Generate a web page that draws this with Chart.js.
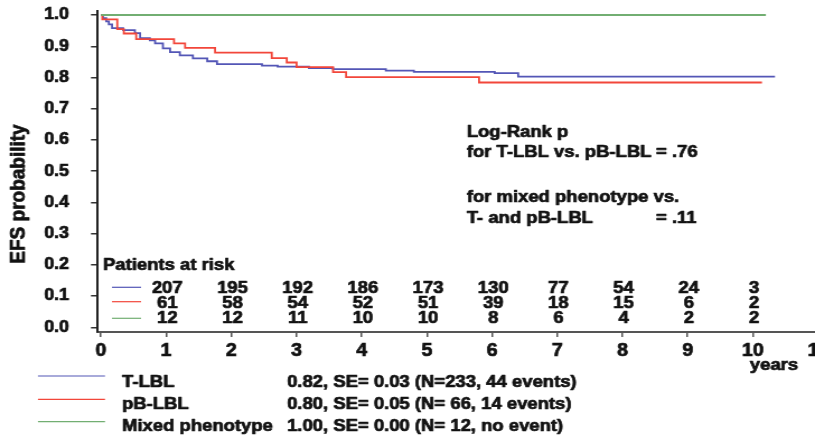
<!DOCTYPE html>
<html>
<head>
<meta charset="utf-8">
<script src="https://cdn.jsdelivr.net/npm/chart.js@4.4.0/dist/chart.umd.min.js"></script>
<style>
  html, body { margin: 0; padding: 0; background: #fff; overflow: hidden; width: 815px; height: 439px; }
  /* the original figure is stretched sideways a little, so draw narrow and widen */
  #wrap { width: 734px; height: 439px; transform: scaleX(1.1195); transform-origin: 0 0; }
  canvas { display: block; }
</style>
</head>
<body>
<div id="wrap"><canvas id="km" width="734" height="439"></canvas></div>
<script>
(function () {
    "use strict";

    var xTicks = [0, 1, 2, 3, 4, 5, 6, 7, 8, 9, 10, 11];
    var yTicks = [0, 0.1, 0.2, 0.3, 0.4, 0.5, 0.6, 0.7, 0.8, 0.9, 1.0];

    // Kaplan-Meier steps (years, EFS)
    var tlblTimes = [0, 0.03, 0.08, 0.12, 0.17, 0.34, 0.52, 0.60, 0.75, 0.83, 0.95, 1.06, 1.21, 1.41, 1.63, 1.78, 2.47, 2.71, 3.19, 3.56, 4.37, 4.80, 6.04, 6.40, 10.34];
    var tlblEfs   = [1.0, 0.99, 0.98, 0.97, 0.958, 0.952, 0.942, 0.926, 0.919, 0.909, 0.893, 0.881, 0.871, 0.861, 0.852, 0.843, 0.838, 0.835, 0.830, 0.827, 0.822, 0.818, 0.814, 0.803, 0.803];

    var pblTimes = [0, 0.02, 0.25, 0.35, 0.54, 1.12, 1.29, 1.75, 2.62, 2.85, 3.0, 3.56, 3.76, 5.80, 10.14];
    var pblEfs   = [1.0, 0.986, 0.955, 0.941, 0.923, 0.909, 0.895, 0.880, 0.862, 0.848, 0.833, 0.817, 0.801, 0.784, 0.784];

    var mixedTimes = [0, 10.2];
    var mixedEfs   = [1.0, 1.0];

    // patients at risk
    var riskTimes = [1, 2, 3, 4, 5, 6, 7, 8, 9, 10];
    var riskTlbl  = [207, 195, 192, 186, 173, 130, 77, 54, 24, 3];
    var riskPbl   = [61, 58, 54, 52, 51, 39, 18, 15, 6, 2];
    var riskMixed = [12, 12, 11, 10, 10, 8, 6, 4, 2, 2];

    var seriesNames  = ['T-LBL', 'pB-LBL', 'Mixed phenotype'];
    var seriesStats  = ['0.82, SE= 0.03 (N=233, 44 events)', '0.80, SE= 0.05 (N= 66, 14 events)', '1.00, SE= 0.00 (N= 12, no event)'];
    var seriesColors = ['#5356b6', '#f2463a', '#72ae72'];

    var noteLines  = ['Log-Rank p', 'for T-LBL vs. pB-LBL', 'for mixed phenotype vs.', 'T- and pB-LBL'];
    var noteValues = ['', '= .76', '', '= .11'];

    var textColor = '#111';
    var fontFam = '"Liberation Sans", Arial, sans-serif';
    var heavy = 0.7; // extra stroke, the scanned figure has thick letters

    function toPoints(times, vals) {
        return times.map(function (t, i) { return {x: t, y: vals[i]}; });
    }

    function setFont(ctx, size) {
        ctx.font = 'bold ' + size + 'px ' + fontFam;
    }

    function text(ctx, s, x, y) {
        ctx.strokeText(s, x, y);
        ctx.fillText(s, x, y);
    }

    var textPlugin = {
        id: 'kmText',
        afterDraw: function (chart) {
            var ctx = chart.ctx;
            var xs = chart.scales.x;
            ctx.save();
            ctx.fillStyle = textColor;
            ctx.lineJoin = 'round';

            // y axis title
            ctx.save();
            ctx.translate(17, 194);
            ctx.rotate(-Math.PI / 2);
            setFont(ctx, 19);
            ctx.textAlign = 'center';
            ctx.textBaseline = 'middle';
            ctx.strokeStyle = textColor;
            ctx.lineWidth = heavy;
            text(ctx, 'EFS probability', 0, 0);
            ctx.restore();

            ctx.strokeStyle = textColor;
            ctx.lineWidth = heavy;

            // x axis unit
            setFont(ctx, 16.5);
            ctx.textAlign = 'center';
            ctx.textBaseline = 'alphabetic';
            text(ctx, 'years', 691.4, 369.5);

            // notes
            ctx.textAlign = 'left';
            var noteBase = [136.7, 156.7, 201.7, 223.3];
            for (var i = 0; i < noteLines.length; i++) {
                text(ctx, noteLines[i], 416.9, noteBase[i]);
                if (noteValues[i]) text(ctx, noteValues[i], 586, noteBase[i]);
            }

            // patients at risk
            ctx.textBaseline = 'middle';
            text(ctx, 'Patients at risk', 92, 265);
            var rows = [riskTlbl, riskPbl, riskMixed];
            var rowY = [287.5, 302, 317];
            var lineY = [287.3, 301.7, 318.3];
            setFont(ctx, 16.5);
            ctx.textAlign = 'center';
            for (var r = 0; r < rows.length; r++) {
                ctx.save();
                ctx.strokeStyle = seriesColors[r];
                ctx.lineWidth = 1.2;
                ctx.beginPath();
                ctx.moveTo(100, lineY[r]);
                ctx.lineTo(126, lineY[r]);
                ctx.stroke();
                ctx.restore();
                for (var k = 0; k < riskTimes.length; k++) {
                    text(ctx, String(rows[r][k]), xs.getPixelForValue(riskTimes[k]) + 1, rowY[r] + 1);
                }
            }

            // legend
            var legLineY = [376, 399.3, 421.7];
            var legBase = [386.7, 409, 431.3];
            setFont(ctx, 16.5);
            ctx.textAlign = 'left';
            ctx.textBaseline = 'alphabetic';
            for (var j = 0; j < seriesNames.length; j++) {
                ctx.save();
                ctx.strokeStyle = seriesColors[j];
                ctx.lineWidth = 1.2;
                ctx.beginPath();
                ctx.moveTo(33.9, legLineY[j]);
                ctx.lineTo(93.8, legLineY[j]);
                ctx.stroke();
                ctx.restore();
                text(ctx, seriesNames[j], 109, legBase[j]);
                text(ctx, seriesStats[j], 256.4, legBase[j]);
            }
            ctx.restore();
        }
    };

    var ctx = document.getElementById('km').getContext('2d');
    var kmChart = new Chart(ctx, {
        type: 'line',
        data: {
            datasets: [
                {label: seriesNames[2], data: toPoints(mixedTimes, mixedEfs), borderColor: seriesColors[2], borderWidth: 2},
                {label: seriesNames[1], data: toPoints(pblTimes, pblEfs), borderColor: seriesColors[1], borderWidth: 1.8},
                {label: seriesNames[0], data: toPoints(tlblTimes, tlblEfs), borderColor: seriesColors[0], borderWidth: 1.8}
            ].map(function (d) {
                d.stepped = true;
                d.pointRadius = 0;
                d.fill = false;
                return d;
            })
        },
        options: {
            responsive: false,
            animation: false,
            events: [],
            layout: {padding: {left: 0, right: 3.3, top: 11, bottom: 0}},
            plugins: {
                legend: {display: false},
                tooltip: {enabled: false}
            },
            scales: {
                x: {
                    type: 'linear',
                    min: -0.061,
                    max: 11,
                    afterBuildTicks: function (s) {
                        s.ticks = xTicks.map(function (v) { return {value: v}; });
                    },
                    afterFit: function (s) {
                        s.height = 107;
                        s.paddingLeft = 0;
                        s.paddingRight = 0;
                    },
                    grid: {display: true, drawOnChartArea: false, drawTicks: true, tickLength: 5, color: '#555', lineWidth: 1.5},
                    border: {display: true, color: '#555', width: 2},
                    ticks: {
                        autoSkip: false,
                        maxRotation: 0,
                        padding: 4,
                        color: textColor,
                        textStrokeColor: textColor,
                        textStrokeWidth: heavy,
                        font: {family: fontFam, size: 17.5, weight: 'bold'}
                    }
                },
                y: {
                    type: 'linear',
                    min: -0.015,
                    max: 1.013,
                    afterBuildTicks: function (s) {
                        s.ticks = yTicks.map(function (v) { return {value: v}; });
                    },
                    afterFit: function (s) {
                        s.width = 86.65;
                        s.paddingTop = 0;
                        s.paddingBottom = 0;
                    },
                    grid: {display: true, drawOnChartArea: false, drawTicks: true, tickLength: 5.4, color: '#333', lineWidth: 1.5},
                    border: {display: true, color: '#222', width: 2},
                    ticks: {
                        padding: 19.6,
                        color: textColor,
                        textStrokeColor: textColor,
                        textStrokeWidth: heavy,
                        font: {family: fontFam, size: 16, weight: 'bold'},
                        callback: function (v) { return Number(v).toFixed(1); }
                    }
                }
            }
        },
        plugins: [textPlugin]
    });
})();
</script>
</body>
</html>
